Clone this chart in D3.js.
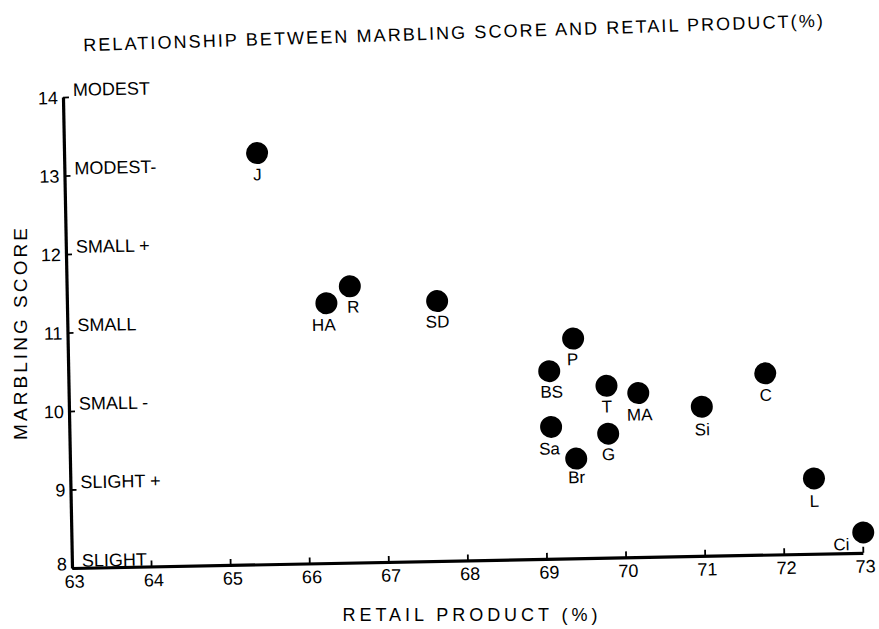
<!DOCTYPE html>
<html><head><meta charset="utf-8">
<script src="https://cdn.jsdelivr.net/npm/d3@7"></script>
<style>body{margin:0;background:#fff}svg{display:block}</style>
</head><body><svg id="c" width="879" height="629"></svg>
<script>
// ---- data ----
const names = ["J","HA","R","SD","P","BS","T","MA","Sa","G","Br","Si","C","L","Ci"];
const retailProduct = [65.44,66.28,66.58,67.68,69.39,69.08,69.80,70.20,69.09,69.81,69.40,71.00,71.81,72.40,73.01];
const marblingScore = [13.24,11.31,11.52,11.31,10.80,10.39,10.19,10.09,9.68,9.58,9.27,9.90,10.31,8.96,8.26];
const xTicks = [63,64,65,66,67,68,69,70,71,72,73];
const yTicks = [8,9,10,11,12,13,14];
const yGrades = ["SLIGHT","SLIGHT +","SMALL -","SMALL","SMALL +","MODEST-","MODEST"];
const titleText = "RELATIONSHIP BETWEEN MARBLING SCORE AND RETAIL PRODUCT(%)";
const xTitle = "RETAIL PRODUCT (%)";
const yTitle = "MARBLING SCORE";

// ---- layout (label offsets relative to dot centre) ----
const labelOffset = {J:[0,22],HA:[-3,22],R:[3,21],SD:[0,21],P:[-1,21],BS:[2,21],T:[0,21],MA:[1,22],
  Sa:[-2,22],G:[0,21],Br:[0,19],Si:[0,23],C:[0,22],L:[0,23],Ci:[-22,12]};
const font = "'Liberation Sans', Arial, Helvetica, sans-serif";
const svg = d3.select("#c");
svg.append("rect").attr("width",879).attr("height",629).attr("fill","#fff");

const W = 791, H = 471;
const x = d3.scaleLinear().domain([63,73]).range([0,W]);
const y = d3.scaleLinear().domain([8,14]).range([0,-H]);

const g = svg.append("g").attr("transform","translate(72,568) rotate(-1.1)");

const xAxis = g.append("g").call(d3.axisBottom(x).tickValues(xTicks).tickSize(-6).tickSizeOuter(0).tickPadding(7).tickFormat(d3.format("d")));
const yAxis = g.append("g").call(d3.axisLeft(y).tickValues(yTicks).tickSize(-6).tickSizeOuter(0).tickPadding(5).tickFormat(d3.format("d")));
[xAxis,yAxis].forEach(a=>{
  a.select(".domain").attr("stroke","#000").attr("stroke-width",3.2);
  a.selectAll(".tick line").attr("stroke","#000").attr("stroke-width",1.8);
  a.selectAll(".tick text").attr("fill","#000").style("font-family",font).style("font-size","18px");
});
xAxis.selectAll(".tick text").attr("x",2);
yAxis.selectAll(".tick text").attr("dy",d=>d===8?"0.1em":"0.35em");

// grade labels
g.selectAll("text.grade").data(yTicks).join("text").attr("class","grade")
  .attr("x",10).attr("y",d=>y(d)-7).attr("dominant-baseline","central")
  .style("font-family",font).style("font-size","18px")
  .text((d,i)=>yGrades[i]);

const pts = names.map((n,i)=>({n, x:retailProduct[i], y:marblingScore[i]}));
g.selectAll("circle").data(pts).join("circle")
  .attr("cx",d=>x(d.x)).attr("cy",d=>y(d.y)).attr("r",11).attr("fill","#000");
g.selectAll("text.lab").data(pts).join("text").attr("class","lab")
  .attr("x",d=>x(d.x)+labelOffset[d.n][0]).attr("y",d=>y(d.y)+labelOffset[d.n][1])
  .attr("text-anchor","middle").attr("dominant-baseline","central")
  .style("font-family",font).style("font-size","17px").text(d=>d.n);

// titles
svg.append("text").attr("x",453).attr("y",33).attr("transform","rotate(-1.9,453,33)")
  .attr("text-anchor","middle").attr("dominant-baseline","central")
  .attr("textLength",740).attr("lengthAdjust","spacing")
  .style("font-family",font).style("font-size","18px").text(titleText);
svg.append("text").attr("x",470).attr("y",615).attr("text-anchor","middle").attr("dominant-baseline","central")
  .attr("textLength",255).attr("lengthAdjust","spacing")
  .style("font-family",font).style("font-size","18px").text(xTitle);
svg.append("text").attr("transform","translate(20,334) rotate(-90)").attr("text-anchor","middle").attr("dominant-baseline","central")
  .attr("textLength",212).attr("lengthAdjust","spacing")
  .style("font-family",font).style("font-size","19px").text(yTitle);
</script>
</body></html>
